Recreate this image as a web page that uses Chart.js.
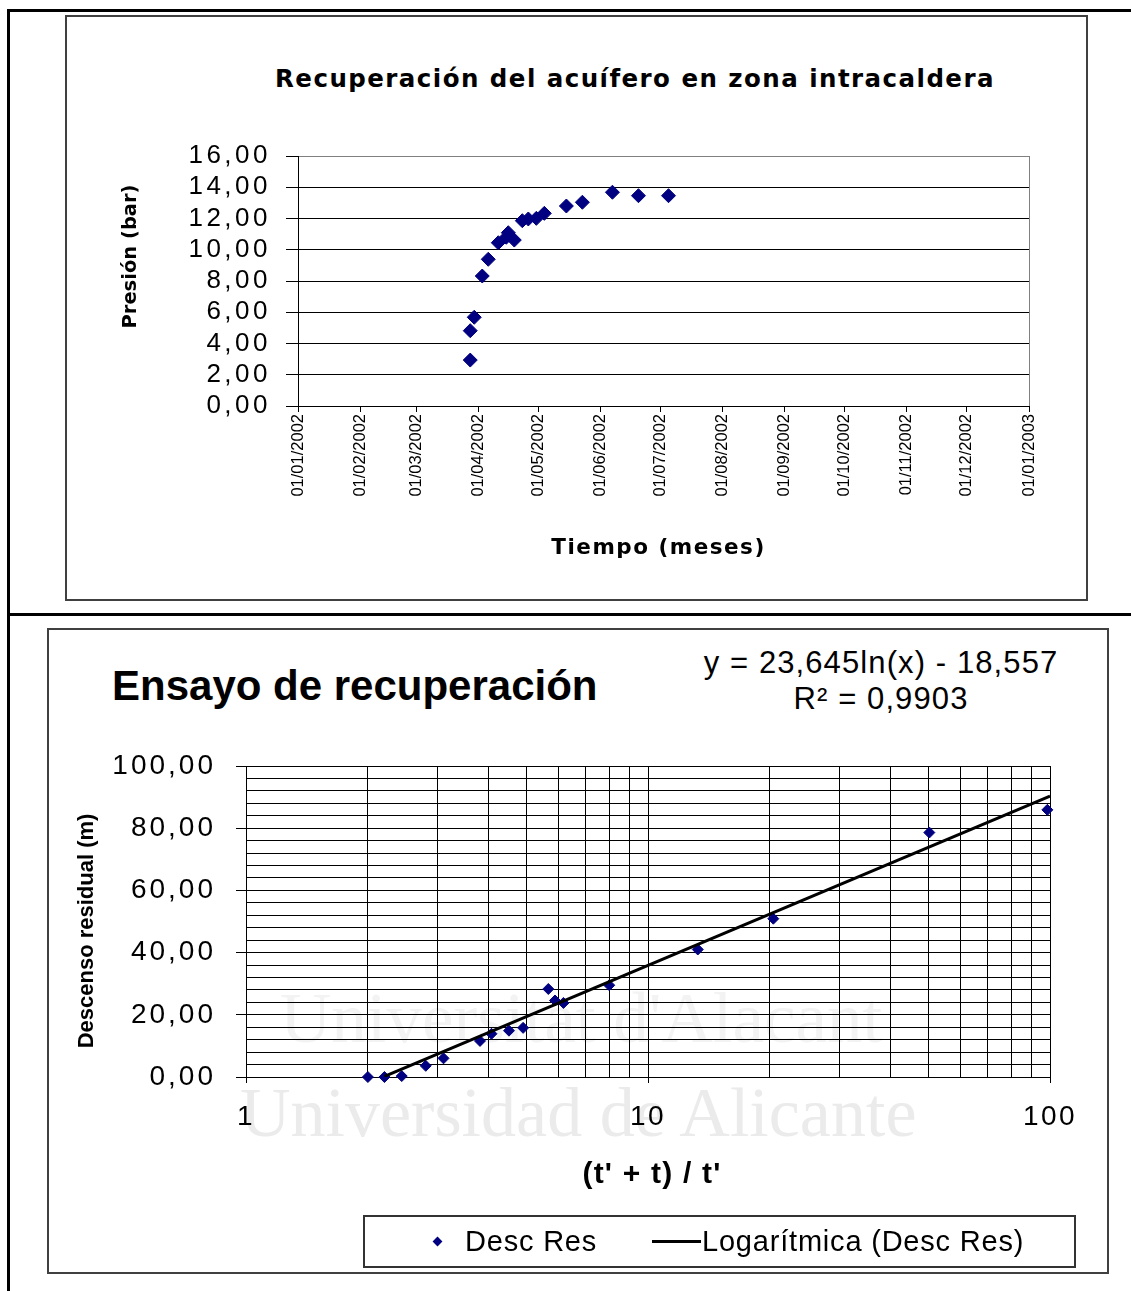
<!DOCTYPE html>
<html lang="es">
<head>
<meta charset="utf-8">
<title>Recuperación del acuífero</title>
<script src="https://cdn.jsdelivr.net/npm/chart.js@4.4.1/dist/chart.umd.min.js"></script>
<style>
  html, body { margin: 0; padding: 0; background: #fff; }
  body { width: 1131px; height: 1291px; position: relative; overflow: hidden;
         font-family: "Liberation Sans", Arial, sans-serif; color: #000; }
  .rule { position: absolute; background: #000; }
  .frame { position: absolute; box-sizing: border-box; border: 2px solid #404040; }
  .txt { position: absolute; white-space: nowrap; line-height: 1; }
  .wm { position: absolute; white-space: nowrap; line-height: 1;
        font-family: "Liberation Serif", "Times New Roman", serif; }
  canvas { position: absolute; }
</style>
</head>
<body>

<!-- table rules round the two figures -->
<div class="rule" style="left:7px;top:9px;width:3px;height:1282px"></div>
<div class="rule" style="left:7px;top:9px;width:1124px;height:3px"></div>
<div class="rule" style="left:7px;top:613px;width:1124px;height:3px"></div>

<!-- figure 1 -->
<div class="frame" style="left:65px;top:15px;width:1023px;height:586px"></div>
<div class="txt" style="left:635px;top:67px;transform:translateX(-50%);font-family:'DejaVu Sans',sans-serif;font-size:24.5px;font-weight:bold;letter-spacing:1.45px">Recuperación del acuífero en zona intracaldera</div>
<canvas id="presionChart" width="1019" height="582" style="left:67px;top:17px;width:1019px;height:582px"></canvas>

<!-- figure 2 -->
<div class="wm" style="left:280px;top:983px;font-size:71px;color:#f3f3f3">Universitat d'Alacant</div>
<div class="wm" style="left:240px;top:1078px;font-size:70px;color:#ebebeb">Universidad de Alicante</div>
<div class="frame" style="left:47px;top:628px;width:1062px;height:646px"></div>
<div class="txt" style="left:112px;top:665px;font-size:42px;font-weight:bold">Ensayo de recuperación</div>
<div class="txt" id="ecuacion" style="left:881px;top:645px;transform:translateX(-50%);font-size:31px;letter-spacing:1.1px;text-align:center;line-height:35.6px"></div>
<canvas id="ensayoChart" width="1058" height="642" style="left:49px;top:630px;width:1058px;height:642px"></canvas>

<div class="frame" style="left:363px;top:1215px;width:713px;height:53px;border-color:#333"></div>
<div style="position:absolute;left:434px;top:1238px;width:7px;height:7px;background:#000080;transform:rotate(45deg)"></div>
<div class="txt" id="leyenda0" style="left:465px;top:1227px;font-size:29px;letter-spacing:0.8px"></div>
<div style="position:absolute;left:652px;top:1240px;width:49px;height:3px;background:#000"></div>
<div class="txt" id="leyenda1" style="left:702px;top:1227px;font-size:29px;letter-spacing:0.8px"></div>

<script>
Chart.defaults.font.family = '"Liberation Sans", Arial, sans-serif';
Chart.defaults.color = '#000';

// ---------- Figura 1: presión del acuífero frente a la fecha ----------
var fechas = ['2002-03-28', '2002-03-28', '2002-03-30', '2002-04-03', '2002-04-06',
              '2002-04-11', '2002-04-15', '2002-04-16', '2002-04-19', '2002-04-23',
              '2002-04-26', '2002-04-30', '2002-05-04', '2002-05-15', '2002-05-23',
              '2002-06-07', '2002-06-20', '2002-07-05'];
var presion = [2.94, 4.82, 5.68, 8.32, 9.39,
               10.45, 10.8, 11.09, 10.62, 11.86,
               11.97, 12.01, 12.33, 12.8, 13.04,
               13.68, 13.46, 13.46];
var meses = ['2002-01-01', '2002-02-01', '2002-03-01', '2002-04-01', '2002-05-01',
             '2002-06-01', '2002-07-01', '2002-08-01', '2002-09-01', '2002-10-01',
             '2002-11-01', '2002-12-01', '2003-01-01'];
var presionTicks = [0, 2, 4, 6, 8, 10, 12, 14, 16];

// ---------- Figura 2: descenso residual frente a (t' + t) / t' ----------
var tRelativo = [2.01, 2.21, 2.44, 2.8, 3.1, 3.82, 4.08, 4.51, 4.89,
                 5.65, 5.87, 6.16, 8.01, 13.3, 20.5, 50.1, 98.5];
var descRes = [0, 0, 0.3, 3.6, 6.0, 11.6, 13.9, 14.9, 15.8,
               28.3, 24.6, 23.8, 29.5, 41.0, 50.9, 78.6, 85.9];
var logTicks = [1, 2, 3, 4, 5, 6, 7, 8, 9, 10, 20, 30, 40, 50, 60, 70, 80, 90, 100];
var logEtiquetas = [1, 10, 100];
var descEtiquetas = [0, 20, 40, 60, 80, 100];
var descPaso = 4;

// línea de tendencia logarítmica de Excel
var tendA = 23.645;
var tendB = -18.557;
var tendR2 = 0.9903;
var tendX = [2.21, 100];

var DIA0 = Date.UTC(2002, 0, 1);
function dia(s) { return (Date.parse(s) - DIA0) / 864e5; }
function dosCifras(n) { return (n < 10 ? '0' : '') + n; }
function fmtFecha(v) {
    var d = new Date(DIA0 + v * 864e5);
    return dosCifras(d.getUTCDate()) + '/' + dosCifras(d.getUTCMonth() + 1) + '/' + d.getUTCFullYear();
}
function coma(v, n) { return v.toFixed(n === undefined ? 2 : n).replace('.', ','); }

// letter spacing / small shifts for the Excel-looking axis text
function ajusteTexto(cfg) {
    return {
        id: 'ajusteTexto',
        beforeDraw: function (chart) {
            Object.keys(cfg).forEach(function (id) {
                var scale = chart.scales[id];
                if (!scale || scale.$ajustado) return;
                scale.$ajustado = true;
                [['drawLabels', cfg[id].labels], ['drawTitle', cfg[id].title]].forEach(function (p) {
                    var t = p[1];
                    if (!t) return;
                    var original = scale[p[0]];
                    scale[p[0]] = function () {
                        var ctx = this.ctx;
                        ctx.save();
                        ctx.letterSpacing = (t.spacing || 0) + 'px';
                        ctx.translate(t.dx || 0, t.dy || 0);
                        original.apply(this, arguments);
                        ctx.restore();
                    };
                });
            });
        }
    };
}

// grey right edge of the plot area (Excel plot border)
var bordeDerecho = {
    id: 'bordeDerecho',
    beforeDatasetsDraw: function (chart) {
        var a = chart.chartArea, ctx = chart.ctx;
        ctx.save();
        ctx.strokeStyle = '#808080';
        ctx.lineWidth = 1;
        ctx.beginPath();
        ctx.moveTo(Math.round(a.right) + 0.5, a.top);
        ctx.lineTo(Math.round(a.right) + 0.5, a.bottom);
        ctx.stroke();
        ctx.restore();
    }
};

new Chart(document.getElementById('presionChart'), {
    type: 'scatter',
    data: {
        datasets: [{
            label: 'Presión',
            data: fechas.map(function (f, i) { return {x: dia(f), y: presion[i]}; }),
            pointStyle: 'rectRot',
            pointRadius: 7,
            backgroundColor: '#000080',
            borderColor: '#000080',
            borderWidth: 1
        }]
    },
    options: {
        responsive: false,
        animation: false,
        layout: {padding: {top: 139, right: 57, bottom: 0, left: 0}},
        plugins: {legend: {display: false}, tooltip: {enabled: false}},
        scales: {
            x: {
                type: 'linear',
                min: dia(meses[0]),
                max: dia(meses[meses.length - 1]),
                afterBuildTicks: function (s) { s.ticks = meses.map(function (m) { return {value: dia(m)}; }); },
                afterFit: function (s) { s.height = 193; },
                grid: {drawOnChartArea: false, tickLength: 6, color: '#000'},
                border: {color: '#000'},
                ticks: {autoSkip: false, minRotation: 90, maxRotation: 90, padding: 2,
                        font: {size: 16.5}, callback: function (v) { return fmtFecha(v); }},
                title: {display: true, text: 'Tiempo (meses)',
                        font: {family: '"DejaVu Sans", sans-serif', size: 21.5, weight: 'bold'},
                        padding: {top: 0, bottom: 38}}
            },
            y: {
                min: 0,
                max: 16,
                afterBuildTicks: function (s) { s.ticks = presionTicks.map(function (v) { return {value: v}; }); },
                afterFit: function (s) { s.width = 231; },
                grid: {color: function (c) { return c.tick && c.tick.value === 16 ? '#808080' : '#000'; },
                       tickColor: '#000', tickLength: 12},
                border: {color: '#000'},
                ticks: {autoSkip: false, padding: 15, font: {size: 26},
                        callback: function (v) { return coma(v); }},
                title: {display: true, text: 'Presión (bar)',
                        font: {family: '"DejaVu Sans", sans-serif', size: 19.5, weight: 'bold'},
                        padding: {top: 52, bottom: 0}}
            }
        }
    },
    plugins: [bordeDerecho, ajusteTexto({
        x: {title: {spacing: 1.5, dx: -5}},
        y: {labels: {spacing: 3.5}, title: {spacing: 0, dy: -24.5}}
    })]
});

var ensayo = new Chart(document.getElementById('ensayoChart'), {
    type: 'scatter',
    data: {
        datasets: [{
            label: 'Desc Res',
            data: tRelativo.map(function (t, i) { return {x: t, y: descRes[i]}; }),
            pointStyle: 'rectRot',
            pointRadius: 5.5,
            backgroundColor: '#000080',
            borderColor: '#000080',
            borderWidth: 1,
            clip: false,
            order: 1
        }, {
            type: 'line',
            label: 'Logarítmica (Desc Res)',
            data: tendX.map(function (x) { return {x: x, y: tendA * Math.log(x) + tendB}; }),
            borderColor: '#000',
            borderWidth: 3,
            pointRadius: 0,
            fill: false,
            order: 0
        }]
    },
    options: {
        responsive: false,
        animation: false,
        layout: {padding: {top: 136, right: 57, bottom: 0, left: 0}},
        plugins: {legend: {display: false}, tooltip: {enabled: false}},
        scales: {
            x: {
                type: 'logarithmic',
                min: 1,
                max: 100,
                afterBuildTicks: function (s) { s.ticks = logTicks.map(function (v) { return {value: v}; }); },
                afterFit: function (s) { s.height = 195; },
                grid: {color: '#000', tickLength: 6,
                       tickColor: function (c) { return c.tick && logEtiquetas.indexOf(c.tick.value) >= 0 ? '#000' : 'rgba(0,0,0,0)'; }},
                border: {color: '#000'},
                ticks: {autoSkip: false, maxRotation: 0, padding: 17, font: {size: 28},
                        callback: function (v) { return logEtiquetas.indexOf(v) >= 0 ? String(v) : ''; }},
                title: {display: true, text: "(t' + t) / t'", font: {size: 30, weight: 'bold'},
                        padding: {top: 0, bottom: 79}}
            },
            y: {
                min: 0,
                max: 100,
                afterFit: function (s) { s.width = 197; },
                grid: {color: '#000', tickLength: 10,
                       tickColor: function (c) { return c.tick && descEtiquetas.indexOf(c.tick.value) >= 0 ? '#000' : 'rgba(0,0,0,0)'; }},
                border: {color: '#000'},
                ticks: {stepSize: descPaso, autoSkip: false, padding: 20, font: {size: 28},
                        callback: function (v) { return descEtiquetas.indexOf(v) >= 0 ? coma(v) : ''; }},
                title: {display: true, text: 'Descenso residual (m)', font: {size: 22, weight: 'bold'},
                        padding: {top: 25, bottom: 0}}
            }
        }
    },
    plugins: [ajusteTexto({
        x: {labels: {spacing: 2.5}, title: {spacing: 1.2, dx: 4}},
        y: {labels: {spacing: 3}, title: {dy: 9.5}}
    })]
});

document.getElementById('ecuacion').innerHTML =
    'y = ' + coma(tendA, 3) + 'ln(x) - ' + coma(-tendB, 3) + '<br>R² = ' + coma(tendR2, 4);
document.getElementById('leyenda0').textContent = ensayo.data.datasets[0].label;
document.getElementById('leyenda1').textContent = ensayo.data.datasets[1].label;
</script>
</body>
</html>
